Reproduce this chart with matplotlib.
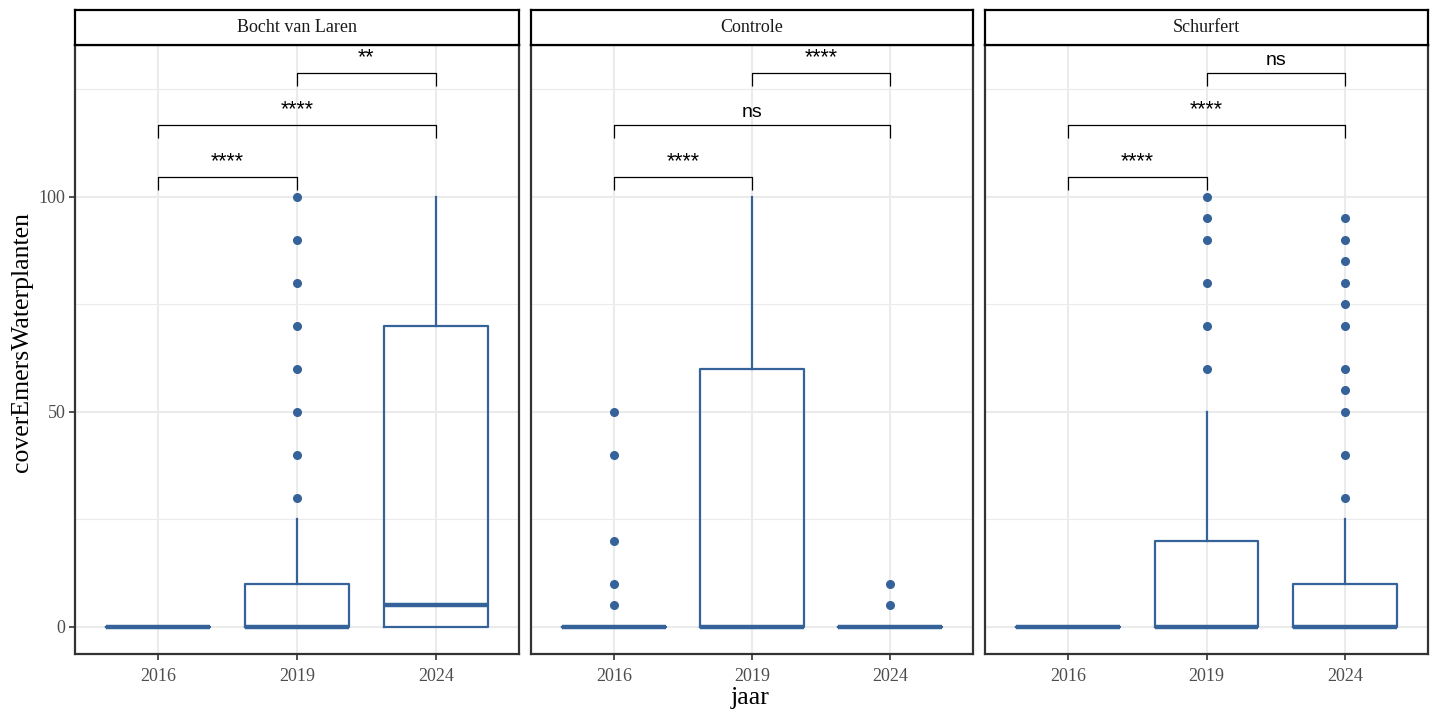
import matplotlib
matplotlib.use("Agg")
import matplotlib.pyplot as plt

# ---------------- data ----------------
panels = ["Bocht van Laren", "Controle", "Schurfert"]
years = ["2016", "2019", "2024"]

# box statistics per panel, per year: q1, median, q3, whisker low, whisker high
q1 = {"Bocht van Laren": [0, 0, 0], "Controle": [0, 0, 0], "Schurfert": [0, 0, 0]}
med = {"Bocht van Laren": [0, 0, 5], "Controle": [0, 0, 0], "Schurfert": [0, 0, 0]}
q3 = {"Bocht van Laren": [0, 10, 70], "Controle": [0, 60, 0], "Schurfert": [0, 20, 10]}
whislo = {"Bocht van Laren": [0, 0, 0], "Controle": [0, 0, 0], "Schurfert": [0, 0, 0]}
whishi = {"Bocht van Laren": [0, 25, 100], "Controle": [0, 100, 0], "Schurfert": [0, 50, 25]}
fliers = {
    "Bocht van Laren": [[], [30, 40, 50, 60, 70, 80, 90, 100], []],
    "Controle": [[5, 10, 20, 40, 50], [], [5, 10]],
    "Schurfert": [[], [60, 70, 80, 90, 95, 100],
                  [30, 40, 50, 55, 60, 70, 75, 80, 85, 90, 95]],
}

# pairwise comparisons (group1, group2) and their labels
comparisons = [("2016", "2019"), ("2016", "2024"), ("2019", "2024")]
labels = {
    "Bocht van Laren": ["****", "****", "**"],
    "Controle": ["****", "ns", "****"],
    "Schurfert": ["****", "****", "ns"],
}
bracket_start = 104.6
bracket_step = 12.1
tip = 3.0

y_ticks = [0, 50, 100]
y_minor = [25, 75, 125]

# ---------------- style ----------------
W, H = 1440, 720
color = "#36629A"
fig = plt.figure(figsize=(W / 100, H / 100), dpi=100)
fig.patch.set_facecolor("white")

serif = ["Liberation Serif", "DejaVu Serif"]
sans = ["Liberation Sans", "DejaVu Sans"]

panel_x = [(75, 519), (531, 973), (985, 1428)]
top, bottom = 45, 654
strip_top = 10

for i, name in enumerate(panels):
    x0, x1 = panel_x[i]
    ax = fig.add_axes([x0 / W, (H - bottom) / H, (x1 - x0) / W, (bottom - top) / H])
    ax.set_xlim(0.4, 3.6)
    ax.set_ylim(-6.3, 135.35)

    # grid
    for yv in y_minor:
        ax.axhline(yv, color="#EBEBEB", lw=0.8, zorder=0)
    for yv in y_ticks:
        ax.axhline(yv, color="#EBEBEB", lw=1.5, zorder=0)
    for xv in range(1, len(years) + 1):
        ax.axvline(xv, color="#EBEBEB", lw=1.5, zorder=0)

    stats = []
    for j, yr in enumerate(years):
        stats.append(dict(q1=q1[name][j], med=med[name][j], q3=q3[name][j],
                          whislo=whislo[name][j], whishi=whishi[name][j],
                          fliers=fliers[name][j], label=yr))
    ax.bxp(stats, positions=range(1, len(years) + 1), widths=0.75,
           patch_artist=False, showcaps=False,
           boxprops=dict(color=color, lw=1.6),
           whiskerprops=dict(color=color, lw=1.6),
           medianprops=dict(color=color, lw=3.2, solid_capstyle="butt"),
           flierprops=dict(marker="o", markerfacecolor=color, markeredgecolor=color,
                           markersize=5.5, linestyle="none"),
           zorder=3)

    # brackets
    for k, (g1, g2) in enumerate(comparisons):
        xa = years.index(g1) + 1
        xb = years.index(g2) + 1
        yb = bracket_start + k * bracket_step
        ax.plot([xa, xa, xb, xb], [yb - tip, yb, yb, yb - tip], color="black", lw=0.9,
                zorder=4, solid_capstyle="butt")
        lab = labels[name][k]
        is_star = lab.startswith("*")
        ax.text((xa + xb) / 2, yb + (1.1 if is_star else 1.0), lab, ha="center",
                va="bottom", fontsize=15.5 if is_star else 14, family=sans,
                color="black")

    ax.set_xticks(range(1, len(years) + 1))
    ax.set_xticklabels(years, family=serif, fontsize=13, color="#4D4D4D")
    ax.set_yticks(y_ticks)
    if i == 0:
        ax.set_yticklabels([str(v) for v in y_ticks], family=serif, fontsize=13,
                           color="#4D4D4D")
        ax.tick_params(axis="y", length=4, width=1.2, color="#333333", pad=3)
    else:
        ax.set_yticklabels([])
        ax.tick_params(axis="y", length=0)
    ax.tick_params(axis="x", length=4, width=1.2, color="#333333", pad=6)
    for sp in ax.spines.values():
        sp.set_color("#333333")
        sp.set_linewidth(1.6)

    # strip
    sax = fig.add_axes([x0 / W, (H - top) / H, (x1 - x0) / W, (top - strip_top) / H])
    sax.set_xticks([])
    sax.set_yticks([])
    sax.set_facecolor("white")
    for sp in sax.spines.values():
        sp.set_color("black")
        sp.set_linewidth(1.6)
    sax.text(0.5, 0.5, name, ha="center", va="center", transform=sax.transAxes,
             family=serif, fontsize=13, color="#1A1A1A")

fig.text(750 / W, 1 - 698 / H, "jaar", ha="center", va="center", family=serif,
         fontsize=18.5, color="black")
fig.text(22 / W, 1 - 342 / H, "coverEmersWaterplanten", ha="center", va="center",
         rotation=90, family=serif, fontsize=18.5, color="black")

fig.savefig("out.png", dpi=100)
